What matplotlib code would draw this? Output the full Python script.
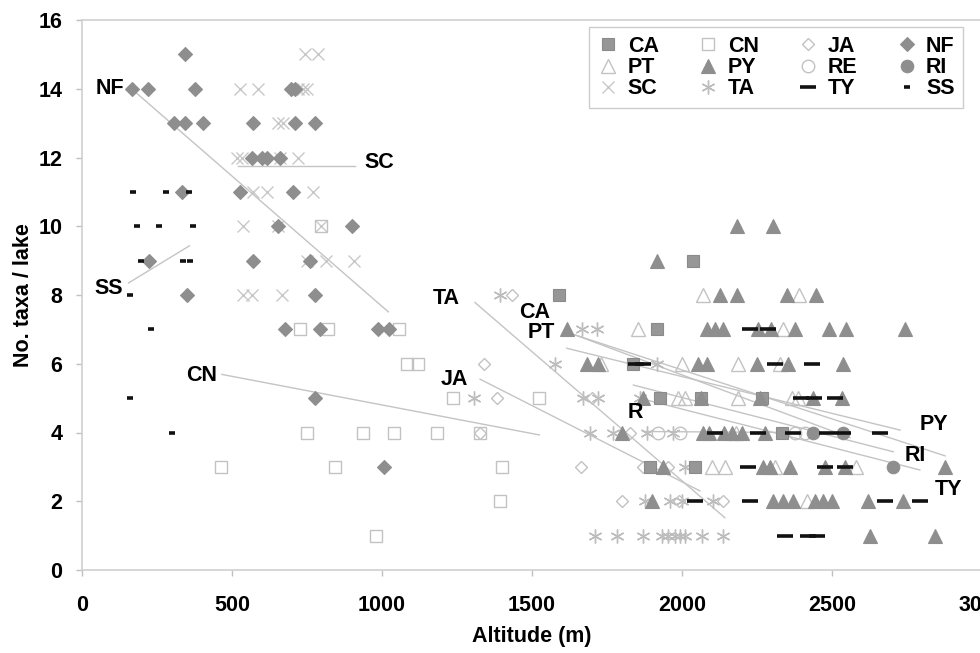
import matplotlib
matplotlib.use('Agg')
import matplotlib.pyplot as plt
from matplotlib.lines import Line2D

plt.rcParams['font.family'] = ['Liberation Sans', 'DejaVu Sans']
plt.rcParams['font.weight'] = 'bold'

# ---------------- data (altitude m, number of taxa per lake) ----------------
ca_alt = [2038, 1591, 1918, 1835, 1927, 2062, 2265, 2332, 1893, 2043]
ca_n   = [9, 8, 7, 6, 5, 5, 5, 4, 3, 3]

cn_alt = [797, 727, 821, 1058, 1084, 1121, 1238, 1523, 751, 938, 1040, 1182, 1327, 463, 843, 1399, 1393, 979]
cn_n   = [10, 7, 7, 7, 6, 6, 5, 5, 4, 4, 4, 4, 4, 3, 3, 3, 2, 1]

ja_alt = [1432, 1340, 1382, 1700, 1327, 1827, 1663, 1871, 1954, 1799, 1990, 2138]
ja_n   = [8, 6, 5, 5, 4, 4, 3, 3, 3, 2, 2, 2]

nf_alt = [343, 166, 221, 377, 695, 710, 308, 343, 404, 569, 710, 777, 566, 599, 616, 660,
          332, 527, 704, 654, 901, 223, 569, 760, 349, 777, 677, 793, 987, 1022, 777, 1005]
nf_n   = [15, 14, 14, 14, 14, 14, 13, 13, 13, 13, 13, 13, 12, 12, 12, 12,
          11, 11, 11, 10, 10, 9, 9, 9, 8, 8, 7, 7, 7, 7, 5, 3]

pt_alt = [2071, 2391, 1854, 2338, 1730, 1999, 2188, 2327, 1987, 2010, 2188, 2366, 2387,
          2180, 2099, 2143, 2310, 2580, 2416]
pt_n   = [8, 8, 7, 7, 6, 6, 6, 6, 5, 5, 5, 5, 5, 4, 3, 3, 3, 3, 2]

py_alt = [2184, 2304, 1918, 2127, 2184, 2349, 2447,
          1616, 2082, 2110, 2138, 2254, 2295, 2377, 2491, 2547, 2743,
          1682, 1721, 2054, 2082, 2249, 2354, 2536,
          1871, 2062, 2260, 2438, 2532,
          1799, 2071, 2090, 2140, 2165, 2200, 2277,
          1938, 2270, 2292, 2360, 2477, 2543, 2877,
          1899, 2304, 2338, 2371, 2443, 2471, 2499, 2621, 2738,
          2627, 2843]
py_n   = [10, 10, 9, 8, 8, 8, 8,
          7, 7, 7, 7, 7, 7, 7, 7, 7, 7,
          6, 6, 6, 6, 6, 6, 6,
          5, 5, 5, 5, 5,
          4, 4, 4, 4, 4, 4, 4,
          3, 3, 3, 3, 3, 3, 3,
          2, 2, 2, 2, 2, 2, 2, 2, 2,
          1, 1]

re_alt = [1921, 1993, 2375, 2410]
re_n   = [4, 4, 4, 4]

ri_alt = [2438, 2538, 2704]
ri_n   = [4, 4, 3]

sc_alt = [743, 787, 527, 587, 720, 735, 750, 654, 671, 516, 532, 660, 721,
          570, 617, 771, 538, 654, 797, 749, 812, 907, 538, 566, 666]
sc_n   = [15, 15, 14, 14, 14, 14, 14, 13, 13, 12, 12, 12, 12,
          11, 11, 11, 10, 10, 10, 9, 9, 9, 8, 8, 8]

ta_alt = [1393, 1666, 1716, 1575, 1916, 1307, 1671, 1721, 1860, 1693, 1771, 1882, 1971,
          2010, 1877, 1960, 2000, 2104,
          1710, 1782, 1871, 1932, 1954, 1977, 1993, 2010, 2066, 2138]
ta_n   = [8, 7, 7, 6, 6, 5, 5, 5, 5, 4, 4, 4, 4,
          3, 2, 2, 2, 2,
          1, 1, 1, 1, 1, 1, 1, 1, 1, 1]

ty_alt = [2227, 2285, 1845, 1870, 2310, 2432, 2395, 2440, 2510,
          2110, 2254, 2371, 2482, 2538, 2660, 2221, 2477, 2543,
          2043, 2227, 2677, 2793, 2343, 2421, 2449]
ty_n   = [7, 7, 6, 6, 6, 6, 5, 5, 5,
          4, 4, 4, 4, 4, 4, 3, 3, 3,
          2, 2, 2, 2, 1, 1, 1]

ss_alt = [169, 280, 358, 184, 258, 371, 196, 338, 360, 160, 229, 160, 299]
ss_n   = [11, 11, 11, 10, 10, 10, 9, 9, 9, 8, 7, 5, 4]

# regression lines (start altitude, start value, end altitude, end value)
trend_names = ['NF', 'SC', 'SS', 'CN', 'TA', 'JA', 'CA', 'PT', 'PY', 'RI', 'TY', 'RE']
trend_x0 = [165, 520, 155, 466, 1310, 1327, 1643, 1616, 1643, 1838, 1880, 1870]
trend_y0 = [14.0, 11.75, 8.35, 5.69, 7.78, 5.55, 6.84, 6.45, 6.84, 5.38, 4.95, 4.03]
trend_x1 = [1021, 910, 358, 1524, 2143, 2060, 2560, 2727, 2877, 2704, 2793, 2350]
trend_y1 = [7.51, 11.75, 9.43, 3.93, 1.52, 2.30, 3.85, 4.07, 3.32, 3.44, 2.91, 4.00]

# ---------------- figure ----------------
FS = 15.5
fig = plt.figure(figsize=(9.8, 6.53), dpi=100)
ax = fig.add_axes([82 / 980, 1 - 570 / 653, 900 / 980, 550 / 653])
ax.set_xlim(0, 3000)
ax.set_ylim(0, 16)

line_col = '#c4c4c4'
for x0, y0, x1, y1 in zip(trend_x0, trend_y0, trend_x1, trend_y1):
    ax.plot([x0, x1], [y0, y1], color=line_col, lw=1.0, zorder=1)

dark = '#8e8e8e'
light = '#c2c2c2'
styles = {
    'CA': dict(marker='s', ms=8.5, mfc='#979797', mec='#8a8a8a', mew=0.8),
    'CN': dict(marker='s', ms=8.5, mfc='none', mec=light, mew=1.0),
    'JA': dict(marker='D', ms=6.5, mfc='none', mec=light, mew=1.0),
    'NF': dict(marker='D', ms=7, mfc=dark, mec=dark, mew=0.8),
    'PT': dict(marker='^', ms=10, mfc='none', mec=light, mew=1.0),
    'PY': dict(marker='^', ms=10, mfc=dark, mec=dark, mew=0.8),
    'RE': dict(marker='o', ms=9, mfc='none', mec=light, mew=1.0),
    'RI': dict(marker='o', ms=9, mfc=dark, mec=dark, mew=0.8),
    'SC': dict(marker='x', ms=9, mfc='none', mec='#c8c8c8', mew=1.0),
    'TA': dict(marker=(6, 2, 0), ms=10, mfc='none', mec='#bdbdbd', mew=1.0),
    'TY': dict(marker='_', ms=11, mfc='none', mec='#111111', mew=2.6),
    'SS': dict(marker='_', ms=5, mfc='none', mec='#111111', mew=2.6),
}
series = {
    'CA': (ca_alt, ca_n), 'CN': (cn_alt, cn_n), 'JA': (ja_alt, ja_n), 'NF': (nf_alt, nf_n),
    'PT': (pt_alt, pt_n), 'PY': (py_alt, py_n), 'RE': (re_alt, re_n), 'RI': (ri_alt, ri_n),
    'SC': (sc_alt, sc_n), 'TA': (ta_alt, ta_n), 'TY': (ty_alt, ty_n), 'SS': (ss_alt, ss_n),
}
draw_order = ['SC', 'TA', 'CN', 'JA', 'PT', 'RE', 'NF', 'CA', 'PY', 'RI', 'TY', 'SS']
handles = {}
for name in draw_order:
    xs, ys = series[name]
    ax.plot(xs, ys, ls='none', zorder=3, **styles[name])
    handles[name] = Line2D([], [], ls='none', **styles[name])

# labels of trend lines
lab_kw = dict(fontsize=FS, fontweight='bold', color='black', va='center', zorder=5)
ax.text(45, 14.02, 'NF', ha='left', **lab_kw)
ax.text(943, 11.85, 'SC', ha='left', **lab_kw)
ax.text(43, 8.2, 'SS', ha='left', **lab_kw)
ax.text(347, 5.67, 'CN', ha='left', **lab_kw)
ax.text(1170, 7.91, 'TA', ha='left', **lab_kw)
ax.text(1197, 5.53, 'JA', ha='left', **lab_kw)
ax.text(1457, 7.5, 'CA', ha='left', **lab_kw)
ax.text(1487, 6.9, 'PT', ha='left', **lab_kw)
ax.text(1820, 4.57, 'R', ha='left', **lab_kw)
ax.text(2793, 4.22, 'PY', ha='left', **lab_kw)
ax.text(2743, 3.32, 'RI', ha='left', **lab_kw)
ax.text(2843, 2.33, 'TY', ha='left', **lab_kw)

# axes styling
for side in ['left', 'bottom', 'top', 'right']:
    ax.spines[side].set_color('#d0d0d0')
    ax.spines[side].set_linewidth(1.2)
ax.set_xticks([0, 500, 1000, 1500, 2000, 2500, 3000])
ax.set_yticks([0, 2, 4, 6, 8, 10, 12, 14, 16])
ax.tick_params(axis='both', which='major', labelsize=FS, color='#c0c0c0',
               length=4, width=1, direction='out')
ax.tick_params(axis='x', pad=14)
ax.tick_params(axis='y', pad=10)
for lbl in ax.get_xticklabels() + ax.get_yticklabels():
    lbl.set_fontweight('bold')
ax.set_xlabel('Altitude (m)', fontsize=FS, fontweight='bold', labelpad=7)
ax.set_ylabel('No. taxa / lake', fontsize=FS, fontweight='bold', labelpad=3)

# legend in row-major order (CA CN JA NF / PT PY RE RI / SC TA TY SS)
legend_cols = [['CA', 'PT', 'SC'], ['CN', 'PY', 'TA'], ['JA', 'RE', 'TY'], ['NF', 'RI', 'SS']]
order = [n for col in legend_cols for n in col]
leg = ax.legend([handles[n] for n in order], order, ncol=4, loc='upper left',
                bbox_to_anchor=((589 - 82) / 900, (570 - 27) / 550),
                prop={'weight': 'bold', 'size': FS}, frameon=True, fancybox=False,
                edgecolor='#c0c0c0', handlelength=1.0, handletextpad=0.4,
                columnspacing=1.8, labelspacing=0.02, borderpad=0.4, borderaxespad=0)
leg.get_frame().set_linewidth(1.0)

fig.savefig('out.png', dpi=100)
